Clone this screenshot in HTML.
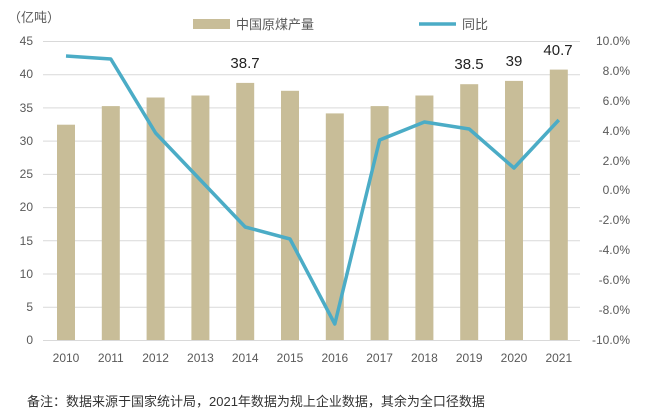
<!DOCTYPE html>
<html><head><meta charset="utf-8"><style>
body{margin:0;background:#fff;}
text{font-family:"Liberation Sans","Noto Sans CJK SC",sans-serif;}
</style></head><body>
<svg width="645" height="413" viewBox="0 0 645 413" xmlns="http://www.w3.org/2000/svg">
<rect width="645" height="413" fill="#fff"/>
<g stroke="#d9d9d9" stroke-width="1">
<line x1="43" x2="580" y1="41.5" y2="41.5"/>
<line x1="43" x2="580" y1="74.7" y2="74.7"/>
<line x1="43" x2="580" y1="107.9" y2="107.9"/>
<line x1="43" x2="580" y1="141.1" y2="141.1"/>
<line x1="43" x2="580" y1="174.4" y2="174.4"/>
<line x1="43" x2="580" y1="207.6" y2="207.6"/>
<line x1="43" x2="580" y1="240.8" y2="240.8"/>
<line x1="43" x2="580" y1="274.0" y2="274.0"/>
<line x1="43" x2="580" y1="307.2" y2="307.2"/>
<line x1="43" x2="580" y1="340.5" y2="340.5"/>
</g>
<g fill="#c8bd98">
<rect x="57" y="124.7" width="18" height="215.3"/>
<rect x="101.8" y="106.1" width="18" height="233.9"/>
<rect x="146.6" y="97.5" width="18" height="242.5"/>
<rect x="191.4" y="95.5" width="18" height="244.5"/>
<rect x="236.2" y="82.9" width="18" height="257.1"/>
<rect x="281" y="90.8" width="18" height="249.2"/>
<rect x="325.8" y="113.4" width="18" height="226.6"/>
<rect x="370.6" y="106.1" width="18" height="233.9"/>
<rect x="415.4" y="95.5" width="18" height="244.5"/>
<rect x="460.2" y="84.2" width="18" height="255.8"/>
<rect x="505" y="80.9" width="18" height="259.1"/>
<rect x="549.8" y="69.6" width="18" height="270.4"/>
</g>
<polyline fill="none" stroke="#4bacc6" stroke-width="3.5" stroke-linejoin="round"
points="66,56 110.8,59 155.6,133 200.4,180 245.2,227 290,239 334.8,324 379.6,140 424.4,122 469.2,129 514,168 558.8,120"/>
<g font-size="12" fill="#595959" text-anchor="end">
<text x="33" y="45">45</text><text x="33" y="78">40</text><text x="33" y="112">35</text>
<text x="33" y="145">30</text><text x="33" y="178">25</text><text x="33" y="211">20</text>
<text x="33" y="245">15</text><text x="33" y="278">10</text><text x="33" y="311">5</text>
<text x="33" y="344">0</text>
</g>
<g font-size="12" fill="#595959" text-anchor="end">
<text x="630" y="45">10.0%</text><text x="630" y="75">8.0%</text><text x="630" y="105">6.0%</text>
<text x="630" y="135">4.0%</text><text x="630" y="165">2.0%</text><text x="630" y="194">0.0%</text>
<text x="630" y="224">-2.0%</text><text x="630" y="254">-4.0%</text><text x="630" y="284">-6.0%</text>
<text x="630" y="314">-8.0%</text><text x="630" y="344">-10.0%</text>
</g>
<g font-size="12" fill="#595959" text-anchor="middle">
<text x="66" y="362">2010</text><text x="110.8" y="362">2011</text><text x="155.6" y="362">2012</text>
<text x="200.4" y="362">2013</text><text x="245.2" y="362">2014</text><text x="290" y="362">2015</text>
<text x="334.8" y="362">2016</text><text x="379.6" y="362">2017</text><text x="424.4" y="362">2018</text>
<text x="469.2" y="362">2019</text><text x="514" y="362">2020</text><text x="558.8" y="362">2021</text>
</g>
<g font-size="15" fill="#222" text-anchor="middle">
<text x="245" y="68">38.7</text><text x="469" y="69">38.5</text>
<text x="514" y="66">39</text><text x="558" y="55">40.7</text>
</g>
<text x="8" y="22" font-size="13" fill="#595959">（亿吨）</text>
<rect x="193" y="19" width="37" height="10" fill="#c8bd98"/>
<text x="236" y="29" font-size="13" fill="#595959">中国原煤产量</text>
<line x1="419" x2="456" y1="24" y2="24" stroke="#4bacc6" stroke-width="3.5"/>
<text x="462" y="29" font-size="13" fill="#595959">同比</text>
<text x="27" y="406" font-size="13" fill="#333">备注：数据来源于国家统计局，2021年数据为规上企业数据，其余为全口径数据</text>
</svg>
</body></html>
